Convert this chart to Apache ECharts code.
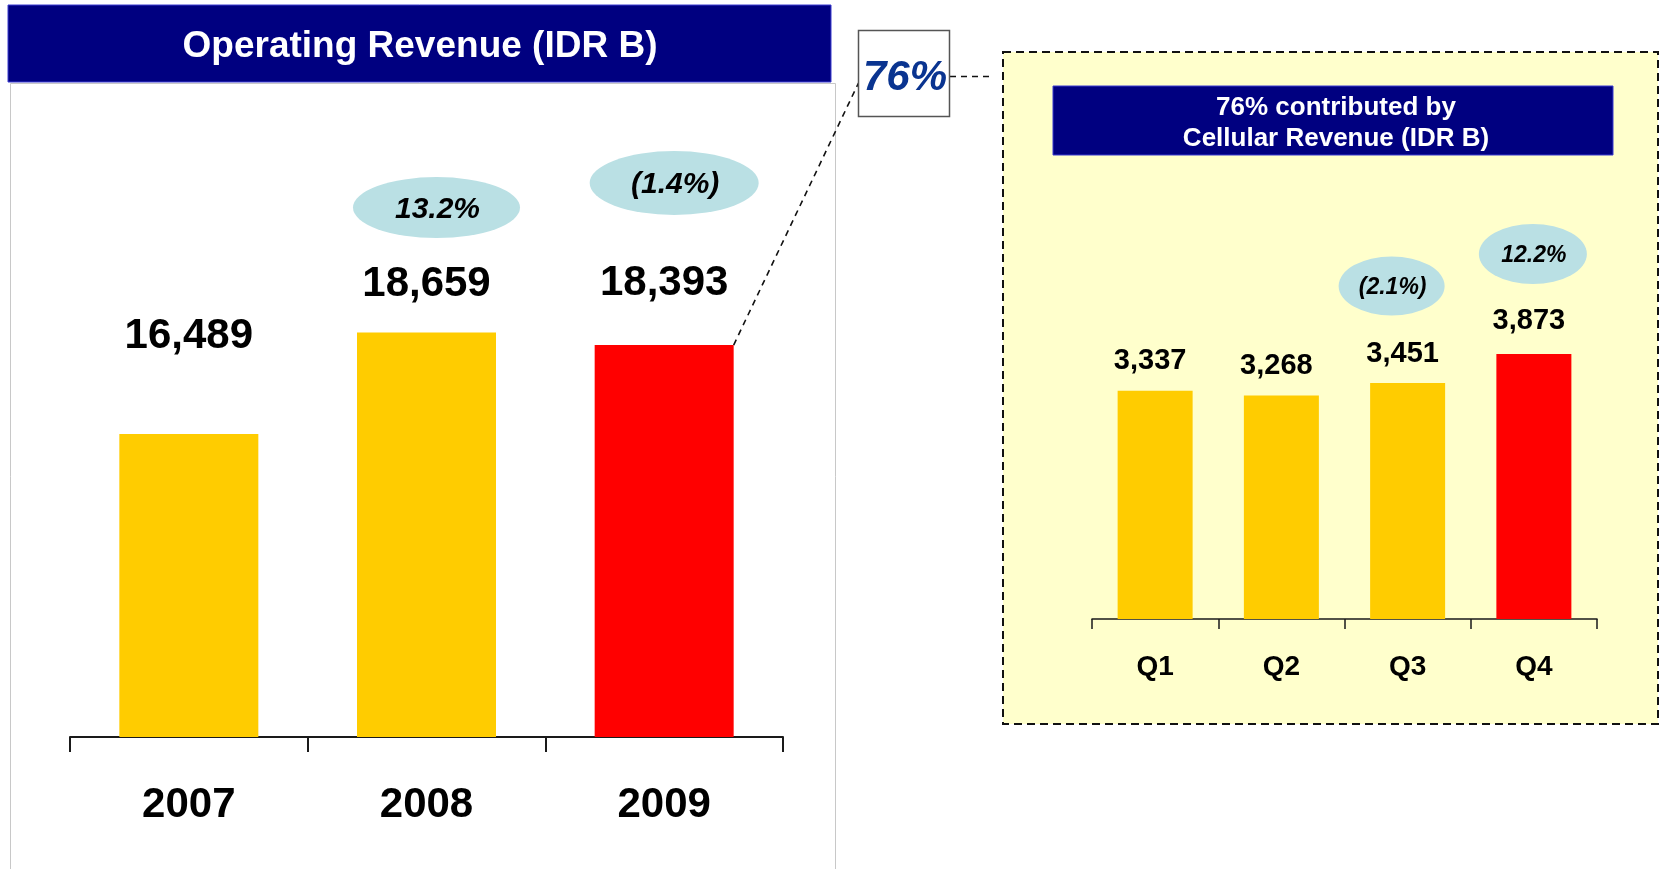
<!DOCTYPE html>
<html>
<head>
<meta charset="utf-8">
<title>Operating Revenue (IDR B)</title>
<script src="https://cdn.jsdelivr.net/npm/echarts@6/dist/echarts.min.js"></script>
<style>
  html, body { margin: 0; padding: 0; background: #fff; }
  #chart { width: 1664px; height: 869px; }
</style>
</head>
<body>
<div id="chart"></div>
<script>
// yearly operating revenue
const years = ['2007', '2008', '2009'];
const yearRevenue = [16489, 18659, 18393];
const yearGrowth = ['', '13.2%', '(1.4%)'];

// 2009 cellular revenue by quarter
const quarters = ['Q1', 'Q2', 'Q3', 'Q4'];
const quarterRevenue = [3337, 3268, 3451, 3873];
const quarterGrowth = ['', '', '(2.1%)', '12.2%'];
const cellularShare = '76%';

// label placement (px), the source slide had them set by hand
const yearLabelGap = [77, 27, 41];
const quarterLabelGap = [15, 15, 14, 19];
const yearBubbleOffset = [null, [10, -125], [10, -162]];
const yearBubbleSize = [null, [167, 61], [169, 64]];
const quarterBubbleOffset = [null, null, [-16, -97], [-1, -100]];
const quarterBubbleSize = [null, null, [106, 59], [108, 60]];

const FONT = '"Liberation Sans", Arial, sans-serif';
const YELLOW = '#FFCC00';
const RED = '#FF0000';
const NAVY = '#000080';
const ELLIPSE = 'path://M0,50A50,50,0,1,1,100,50A50,50,0,1,1,0,50Z';

const chart = echarts.init(document.getElementById('chart'));

const barData = (values, gaps) => values.map((v, i) => ({
  value: v,
  itemStyle: { color: i === values.length - 1 ? RED : YELLOW },
  label: { distance: gaps[i] }
}));

const bubbleData = (cats, values, growth, offsets, sizes) => {
  const out = [];
  cats.forEach((c, i) => {
    if (!growth[i]) { return; }
    out.push({
      value: [c, values[i]],
      symbolOffset: offsets[i],
      symbolSize: sizes[i],
      label: { formatter: growth[i] }
    });
  });
  return out;
};

const option = {
  animation: false,
  textStyle: { fontFamily: FONT },
  grid: [
    { left: 70, top: 270, width: 713, height: 467 },
    { left: 1092, top: 277, width: 505, height: 342 }
  ],
  xAxis: [
    {
      type: 'category',
      gridIndex: 0,
      data: years,
      axisLine: { show: true, lineStyle: { color: '#1a1a1a', width: 2 } },
      axisTick: { show: true, length: 15, lineStyle: { color: '#1a1a1a', width: 2 } },
      axisLabel: { color: '#000', fontSize: 42, fontWeight: 'bold', margin: 47, fontFamily: FONT }
    },
    {
      type: 'category',
      gridIndex: 1,
      data: quarters,
      axisLine: { show: true, lineStyle: { color: '#1a1a1a', width: 1.5 } },
      axisTick: { show: true, length: 10, lineStyle: { color: '#1a1a1a', width: 1.5 } },
      axisLabel: { color: '#000', fontSize: 28, fontWeight: 'bold', margin: 34, fontFamily: FONT }
    }
  ],
  yAxis: [
    { type: 'value', gridIndex: 0, min: 10000, max: 20000, show: false },
    { type: 'value', gridIndex: 1, min: 0, max: 5000, show: false }
  ],
  series: [
    {
      name: 'Operating Revenue',
      type: 'bar',
      xAxisIndex: 0,
      yAxisIndex: 0,
      barWidth: 139,
      silent: true,
      data: barData(yearRevenue, yearLabelGap),
      label: {
        show: true,
        position: 'top',
        color: '#000',
        fontSize: 42,
        fontWeight: 'bold',
        fontFamily: FONT,
        formatter: (p) => p.value.toLocaleString('en-US')
      }
    },
    {
      name: 'Cellular Revenue',
      type: 'bar',
      xAxisIndex: 1,
      yAxisIndex: 1,
      barWidth: 75,
      silent: true,
      data: barData(quarterRevenue, quarterLabelGap),
      label: {
        show: true,
        position: 'top',
        offset: [-5, 0],
        color: '#000',
        fontSize: 29,
        fontWeight: 'bold',
        fontFamily: FONT,
        formatter: (p) => p.value.toLocaleString('en-US')
      }
    },
    {
      name: 'Yearly growth',
      type: 'scatter',
      xAxisIndex: 0,
      yAxisIndex: 0,
      symbol: ELLIPSE,
      silent: true,
      itemStyle: { color: '#BAE0E4', opacity: 1 },
      data: bubbleData(years, yearRevenue, yearGrowth, yearBubbleOffset, yearBubbleSize),
      label: {
        show: true,
        position: 'inside',
        offset: [1, 2],
        color: '#000',
        fontSize: 30,
        fontWeight: 'bold',
        fontStyle: 'italic',
        fontFamily: FONT
      }
    },
    {
      name: 'Quarterly growth',
      type: 'scatter',
      xAxisIndex: 1,
      yAxisIndex: 1,
      symbol: ELLIPSE,
      silent: true,
      itemStyle: { color: '#BAE0E4', opacity: 1 },
      data: bubbleData(quarters, quarterRevenue, quarterGrowth, quarterBubbleOffset, quarterBubbleSize),
      label: {
        show: true,
        position: 'inside',
        offset: [1, 2],
        color: '#000',
        fontSize: 23,
        fontWeight: 'bold',
        fontStyle: 'italic',
        fontFamily: FONT
      }
    }
  ]
};

chart.setOption(option);

// top right corner of the 2009 bar, the zoom line starts there
const last = years.length - 1;
const corner = chart.convertToPixel({ seriesIndex: 0 }, [years[last], yearRevenue[last]]);
const cornerX = corner[0] + 139 / 2;
const cornerY = corner[1];

chart.setOption({
  graphic: [
    // left panel frame + header
    {
      type: 'rect', z: -2,
      shape: { x: 10.5, y: 83.5, width: 825, height: 820 },
      style: { fill: '#fff', stroke: '#c8c8c8', lineWidth: 1 }
    },
    {
      type: 'rect', z: -1,
      shape: { x: 8, y: 5, width: 823, height: 77 },
      style: { fill: NAVY, stroke: '#3a3ad0', lineWidth: 1 }
    },
    {
      type: 'text', z: 5,
      x: 420, y: 47,
      style: {
        text: 'Operating Revenue (IDR B)',
        fill: '#fff', font: 'bold 37px ' + FONT,
        align: 'center', verticalAlign: 'middle'
      }
    },
    // right panel
    {
      type: 'rect', z: -2,
      shape: { x: 1003, y: 52, width: 655, height: 672 },
      style: { fill: '#FFFFCC', stroke: '#111', lineWidth: 2, lineDash: [8, 5] }
    },
    {
      type: 'rect', z: -1,
      shape: { x: 1053, y: 86, width: 560, height: 69 },
      style: { fill: NAVY, stroke: '#3a3ad0', lineWidth: 1 }
    },
    {
      type: 'text', z: 5,
      x: 1336, y: 123,
      style: {
        text: cellularShare + ' contributed by\nCellular Revenue (IDR B)',
        fill: '#fff', font: 'bold 26px ' + FONT, lineHeight: 31,
        align: 'center', verticalAlign: 'middle'
      }
    },
    // share callout
    {
      type: 'line', z: 1,
      shape: { x1: cornerX, y1: cornerY, x2: 858.5, y2: 83 },
      style: { stroke: '#111', lineWidth: 1.6, lineDash: [6, 5] }
    },
    {
      type: 'line', z: 1,
      shape: { x1: 950, y1: 76.5, x2: 989, y2: 76.5 },
      style: { stroke: '#111', lineWidth: 1.6, lineDash: [6, 5] }
    },
    {
      type: 'rect', z: 2,
      shape: { x: 858.5, y: 30.5, width: 91, height: 86 },
      style: { fill: '#fff', stroke: '#555', lineWidth: 1.5 }
    },
    {
      type: 'text', z: 5,
      x: 905, y: 78,
      style: {
        text: cellularShare,
        fill: '#0A3490', font: 'italic bold 42px ' + FONT,
        align: 'center', verticalAlign: 'middle'
      }
    }
  ]
});
</script>
</body>
</html>
